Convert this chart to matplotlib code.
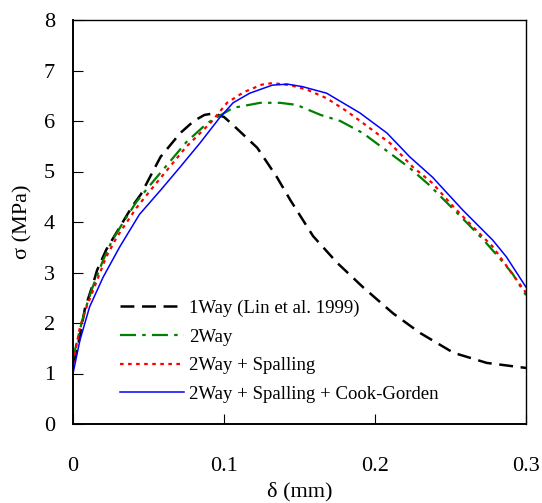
import numpy as np
import matplotlib
matplotlib.use('Agg')
import matplotlib.pyplot as plt

plt.rcParams['font.family'] = ['Liberation Serif', 'DejaVu Serif']
plt.rcParams['lines.scale_dashes'] = False

# 1Way (Lin et al. 1999)
way1_x = [0, 0.003, 0.008, 0.013, 0.016, 0.022, 0.031, 0.039, 0.045, 0.052, 0.058, 0.071,
          0.080, 0.087, 0.093, 0.100, 0.106, 0.122, 0.135, 0.144, 0.159, 0.175, 0.192, 0.212,
          0.230, 0.252, 0.274, 0.300]
way1_y = [1.2, 1.5, 2.3, 2.75, 3.05, 3.45, 3.9, 4.3, 4.55, 4.95, 5.29, 5.76,
          6.0, 6.12, 6.15, 6.08, 5.92, 5.47, 4.89, 4.43, 3.72, 3.19, 2.71, 2.19,
          1.80, 1.41, 1.21, 1.11]

# 2Way
way2_x = [0, 0.004, 0.008, 0.013, 0.020, 0.026, 0.033, 0.042, 0.053, 0.064, 0.075,
          0.089, 0.106, 0.124, 0.137, 0.148, 0.164, 0.177, 0.192, 0.210, 0.223,
          0.236, 0.248, 0.261, 0.272, 0.282, 0.291, 0.300]
way2_y = [1.3, 1.8, 2.26, 2.71, 3.25, 3.64, 3.98, 4.4, 4.8, 5.19, 5.58,
          5.96, 6.26, 6.36, 6.36, 6.32, 6.12, 6.0, 5.76, 5.36, 5.07,
          4.73, 4.37, 3.98, 3.64, 3.3, 2.98, 2.55]

# 2Way + Spalling
spall_x = [0, 0.0046, 0.009, 0.016, 0.022, 0.029, 0.042, 0.053, 0.064, 0.075, 0.091,
           0.102, 0.113, 0.125, 0.132, 0.144, 0.155, 0.168, 0.181, 0.192, 0.210,
           0.225, 0.238, 0.252, 0.265, 0.278, 0.289, 0.300]
spall_y = [1.2, 1.92, 2.32, 2.85, 3.31, 3.70, 4.28, 4.69, 5.09, 5.49, 5.96,
           6.36, 6.57, 6.72, 6.75, 6.71, 6.62, 6.45, 6.2, 5.96, 5.56,
           5.09, 4.77, 4.30, 3.90, 3.51, 3.05, 2.60]

# 2Way + Spalling + Cook-Gorden
cook_x = [0, 0.0046, 0.011, 0.020, 0.031, 0.044, 0.058, 0.071, 0.084, 0.097, 0.106,
          0.117, 0.132, 0.142, 0.152, 0.168, 0.190, 0.208, 0.223, 0.238, 0.258,
          0.278, 0.287, 0.300]
cook_y = [1.0, 1.66, 2.32, 2.91, 3.51, 4.15, 4.63, 5.09, 5.56, 6.06, 6.36,
          6.55, 6.71, 6.73, 6.68, 6.55, 6.16, 5.76, 5.29, 4.89, 4.24,
          3.64, 3.31, 2.71]

labels = ['1Way (Lin et al. 1999)', '2Way', '2Way + Spalling',
          '2Way + Spalling + Cook-Gorden']

fig = plt.figure(figsize=(5.42, 5.03), dpi=100)
ax = fig.add_axes([73/542, 1 - 424/503, 453/542, 404/503])

ax.plot(way1_x, way1_y, color='black', lw=1.8, dashes=(10, 5.5), label=labels[0])
ax.plot(way2_x, way2_y, color='#008000', lw=1.6, dashes=(11.5, 4.5, 2.5, 4.5), label=labels[1])
ax.plot(spall_x, spall_y, color='#ff0000', lw=1.6, dashes=(2.6, 3.2), label=labels[2])
ax.plot(cook_x, cook_y, color='#0000ff', lw=1.1, label=labels[3])

ax.set_xlim(0, 0.3)
ax.set_ylim(0, 8)
ax.set_xticks([0, 0.1, 0.2, 0.3])
ax.set_xticklabels(['0', '0.1', '0.2', '0.3'])
ax.set_yticks(range(0, 9))

ax.tick_params(axis='both', direction='in', length=7, width=0.8, labelsize=16)
ax.tick_params(axis='y', pad=13)
ax.tick_params(axis='x', pad=24)
for side in ['left', 'bottom']:
    ax.spines[side].set_linewidth(1.4)
for side in ['right', 'top']:
    ax.spines[side].set_linewidth(1.0)

ax.set_xlabel('δ (mm)', fontsize=16, labelpad=4)
ax.set_ylabel('σ (MPa)', fontsize=16, labelpad=8)

ax.legend(loc='center left', bbox_to_anchor=(0.104, 0.18), frameon=False,
          fontsize=13.5, handlelength=3.4, handletextpad=0.3, labelspacing=0.62,
          borderpad=0, borderaxespad=0)

fig.savefig('out.png', dpi=100)
